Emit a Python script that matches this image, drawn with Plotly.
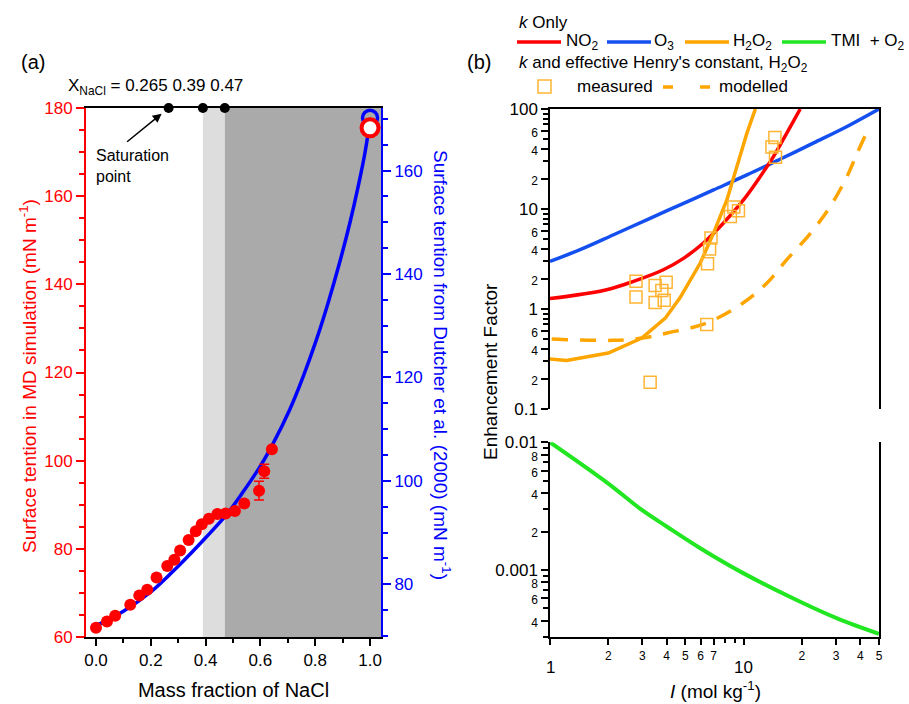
import math
import plotly.graph_objects as go

# ---------------- Panel (a) data ----------------
md_x = [0.0, 0.04, 0.07, 0.125, 0.158, 0.187, 0.221, 0.26, 0.286, 0.307, 0.338, 0.364,
        0.386, 0.412, 0.443, 0.473, 0.507, 0.541, 0.595, 0.614, 0.642]
md_y = [62.1, 63.5, 64.8, 67.3, 69.4, 70.7, 73.5, 76.1, 77.5, 79.6, 82.0, 84.0,
        85.6, 86.8, 87.9, 88.0, 88.6, 90.3, 93.2, 97.6, 102.6]
md_err = [0, 0, 0, 0, 0, 0, 0, 0, 0, 0, 0, 0,
          0, 0, 0, 0, 0, 0, 2.15, 1.6, 0]
md_pure_x = [1.0]
md_pure_y = [175.5]

dutcher_x = [0.0, 0.1, 0.2, 0.3, 0.4, 0.477, 0.532, 0.599, 0.647, 0.708, 0.757, 0.805,
             0.848, 0.891, 0.927, 0.957, 0.982, 0.994, 1.0]
dutcher_y = [72.0, 74.8, 78.5, 83.5, 89.0, 93.5, 97.5, 102.8, 107.3, 113.9, 120.3, 127.4,
             134.6, 142.6, 150.0, 157.0, 163.6, 167.6, 170.2]
dutcher_pure_x = [1.0]
dutcher_pure_y = [170.2]

sat_x = [0.265, 0.39, 0.47]
sat_y = [180, 180, 180]
region_light = [0.39, 0.47]
region_dark = [0.47, 1.04]

xa_range = [-0.0365, 1.04]
md_range = [60, 180]
dutcher_range = [69.8, 172.1]

# ---------------- Panel (b) data ----------------
no2_x = [1.0, 1.96, 2.70, 3.85, 4.89, 6.2, 7.87, 10.0, 12.2, 14.3, 16.7, 19.6]
no2_y = [1.27, 1.56, 1.89, 2.47, 3.21, 4.57, 7.24, 12.4, 21.2, 33.8, 57.5, 100]

o3_x = [1.0, 1.43, 2.13, 3.16, 4.70, 6.99, 10.4, 15.5, 23.0, 34.2, 50.0]
o3_y = [2.99, 3.92, 5.53, 7.8, 11.0, 15.5, 21.9, 31.6, 45.8, 66.9, 100]

h2o2_x = [1.0, 1.22, 2.0, 2.98, 3.94, 4.7, 5.97, 6.99, 8.2, 9.2, 10.4, 11.5]
h2o2_y = [0.316, 0.306, 0.363, 0.512, 0.81, 1.3, 2.88, 5.75, 12.4, 26.7, 57.5, 100]

mod_x = [1.02, 2.13, 2.98, 4.02, 6.45, 9.8, 13.2, 16.7, 22.2, 28.0, 34.2, 38.6, 43.4]
mod_y = [0.501, 0.486, 0.512, 0.575, 0.725, 1.13, 1.82, 3.11, 5.75, 10.6, 21.2, 36.3, 59.7]

meas_x = [2.78, 2.78, 3.49, 3.78, 3.98, 3.49, 3.89, 6.67, 6.78, 6.51, 8.9, 9.4, 8.54,
          14.0, 14.5, 14.6, 6.45, 3.29]
meas_y = [1.89, 1.32, 1.72, 1.53, 1.85, 1.16, 1.22, 3.98, 5.13, 2.84, 10.5, 9.6, 8.4,
          41.7, 52.0, 33.0, 0.70, 0.185]

tmi_x = [1.0, 2.0, 2.98, 4.02, 5.97, 10.0, 19.6, 30.4, 50.0]
tmi_y = [0.01, 0.00475, 0.00295, 0.00218, 0.00148, 0.00094, 0.000564, 0.000418, 0.000316]

# tick definitions
xb_major = [1, 10]
xb_tickvals = [1, 2, 3, 4, 5, 6, 7, 10, 20, 30, 40, 50]
xb_ticktext = ["", "2", "3", "4", "5", "6", "7", "", "2", "3", "4", "5"]
xb_minor = [8, 9]

yt_tickvals = [0.1, 0.2, 0.4, 0.6, 1, 2, 4, 6, 10, 20, 40, 60, 100]
yt_labels = ["0.1", "2", "4", "6", "1", "2", "4", "6", "10", "2", "4", "6", "100"]
yt_minor = [0.3, 0.5, 0.7, 0.8, 0.9, 3, 5, 7, 8, 9, 30, 50, 70, 80, 90]

yb_tickvals = [0.0004, 0.0006, 0.0008, 0.001, 0.002, 0.004, 0.006, 0.008, 0.01]
yb_labels = ["4", "6", "8", "0.001", "2", "4", "6", "8", "0.01"]
yb_minor = [0.0003, 0.0005, 0.0007, 0.0009, 0.003, 0.005, 0.007, 0.009]

W, H = 909, 704
FONT = "Arial, Liberation Sans, sans-serif"
RED = "#ff0000"
BLUE = "#0000ff"
C_NO2 = "#ff0000"
C_O3 = "#1450f0"
C_H2O2 = "#ffa500"
C_TMI = "#22e622"
C_SQ = "#ffb533"


def px(x):
    return x / W


def py(y):
    return 1 - y / H


def small(t):
    if t in ("0.1", "1", "10", "100", "0.001", "0.01"):
        return t
    return "<span style='font-size:12px'>" + t + "</span>"


fig = go.Figure()

# ---- panel (a) traces ----  (Dutcher on base axis 'y' (right side), MD on overlaying 'y2' (left side))
fig.add_trace(go.Scatter(x=dutcher_x, y=dutcher_y, mode="lines", line=dict(color=BLUE, width=3.5, shape="spline"),
                         xaxis="x", yaxis="y", showlegend=False))
fig.add_trace(go.Scatter(x=dutcher_pure_x, y=dutcher_pure_y, mode="markers",
                         marker=dict(symbol="circle-open", size=15, color=BLUE, line=dict(width=3.5, color=BLUE)),
                         xaxis="x", yaxis="y", showlegend=False, cliponaxis=False))
fig.add_trace(go.Scatter(x=md_x, y=md_y, mode="markers",
                         marker=dict(size=12, color=RED),
                         error_y=dict(type="data", array=md_err, color=RED, thickness=1.5, width=5),
                         xaxis="x", yaxis="y2", showlegend=False))
fig.add_trace(go.Scatter(x=md_pure_x, y=md_pure_y, mode="markers",
                         marker=dict(symbol="circle", size=17, color="white", line=dict(width=4, color=RED)),
                         xaxis="x", yaxis="y2", showlegend=False, cliponaxis=False))
fig.add_trace(go.Scatter(x=sat_x, y=sat_y, mode="markers", marker=dict(size=10, color="black"),
                         xaxis="x", yaxis="y2", showlegend=False, cliponaxis=False))

# ---- panel (b) traces ----
fig.add_trace(go.Scatter(x=o3_x, y=o3_y, mode="lines", line=dict(color=C_O3, width=3.5, shape="spline"),
                         xaxis="x3", yaxis="y3", showlegend=False))
fig.add_trace(go.Scatter(x=no2_x, y=no2_y, mode="lines", line=dict(color=C_NO2, width=3.5, shape="spline"),
                         xaxis="x3", yaxis="y3", showlegend=False))
fig.add_trace(go.Scatter(x=h2o2_x, y=h2o2_y, mode="lines", line=dict(color=C_H2O2, width=3.5),
                         xaxis="x3", yaxis="y3", showlegend=False))
fig.add_trace(go.Scatter(x=mod_x, y=mod_y, mode="lines", line=dict(color=C_H2O2, width=3.5, dash="16px,12px", shape="spline"),
                         xaxis="x3", yaxis="y3", showlegend=False))
fig.add_trace(go.Scatter(x=meas_x, y=meas_y, mode="markers",
                         marker=dict(symbol="square-open", size=12, color=C_SQ, line=dict(width=1.5, color=C_SQ)),
                         xaxis="x3", yaxis="y3", showlegend=False))
fig.add_trace(go.Scatter(x=tmi_x, y=tmi_y, mode="lines", line=dict(color=C_TMI, width=4, shape="spline"),
                         xaxis="x4", yaxis="y4", showlegend=False))

tick_font = dict(family=FONT, size=17, color="black")

fig.update_layout(
    width=W, height=H, margin=dict(l=0, r=0, t=0, b=0, autoexpand=False),
    paper_bgcolor="white", plot_bgcolor="rgba(0,0,0,0)",
    font=dict(family=FONT, size=17, color="black"),
    showlegend=False,
    xaxis=dict(domain=[px(86), px(381)], anchor="y", range=xa_range,
               tickvals=[0, 0.2, 0.4, 0.6, 0.8, 1.0], ticktext=["0.0", "0.2", "0.4", "0.6", "0.8", "1.0"],
               ticks="outside", ticklen=7, tickwidth=1.5, tickcolor="black",
               minor=dict(tickvals=[0.1, 0.3, 0.5, 0.7, 0.9], ticks="outside", ticklen=4, tickcolor="black", showgrid=False),
               showline=True, linecolor="black", linewidth=1.5, mirror=True,
               showgrid=False, zeroline=False, tickfont=tick_font, automargin=False,
               title=dict(text="Mass fraction of NaCl", font=dict(size=20), standoff=14)),
    yaxis=dict(domain=[py(637), py(108)], anchor="x", side="right", range=dutcher_range,
               tickvals=[80, 100, 120, 140, 160],
               ticks="outside", ticklen=8, tickwidth=1.5, tickcolor=BLUE,
               minor=dict(tickvals=list(range(70, 175, 5)), ticks="outside", ticklen=5, tickcolor=BLUE, showgrid=False),
               showline=True, linecolor=BLUE, linewidth=2, automargin=False,
               showgrid=False, zeroline=False, tickfont=dict(family=FONT, size=17, color=BLUE)),
    yaxis2=dict(overlaying="y", side="left", anchor="x", range=md_range,
                tickvals=[60, 80, 100, 120, 140, 160, 180],
                ticks="outside", ticklen=8, tickwidth=1.5, tickcolor=RED,
                minor=dict(tickvals=list(range(65, 180, 5)), ticks="outside", ticklen=5, tickcolor=RED, showgrid=False),
                showline=True, linecolor=RED, linewidth=2, automargin=False,
                showgrid=False, zeroline=False, tickfont=dict(family=FONT, size=17, color=RED)),
    xaxis3=dict(domain=[px(550), px(879)], anchor="y3", type="log", range=[0, math.log10(50)],
                side="top", showline=True, linecolor="black", linewidth=1.5, automargin=False,
                ticks="", showticklabels=False, showgrid=False, zeroline=False),
    yaxis3=dict(domain=[py(409), py(109)], anchor="x3", type="log", range=[-1, 2],
                tickvals=yt_tickvals, ticktext=[small(t) for t in yt_labels],
                ticks="outside", ticklen=7, tickwidth=1.5, tickcolor="black",
                minor=dict(tickvals=yt_minor, ticks="outside", ticklen=5, tickcolor="black", showgrid=False),
                showline=True, linecolor="black", linewidth=1.5, mirror=True, automargin=False,
                showgrid=False, zeroline=False, tickfont=tick_font),
    xaxis4=dict(domain=[px(550), px(879)], anchor="y4", type="log", range=[0, math.log10(50)],
                tickvals=xb_tickvals, ticktext=xb_ticktext,
                ticks="outside", ticklen=7, tickwidth=1.5, tickcolor="black",
                minor=dict(tickvals=xb_minor, ticks="outside", ticklen=5, tickcolor="black", showgrid=False),
                showline=True, linecolor="black", linewidth=1.5, automargin=False,
                showgrid=False, zeroline=False, tickfont=dict(family=FONT, size=12, color="black")),
    yaxis4=dict(domain=[py(636.7), py(442.3)], anchor="x4", type="log", range=[math.log10(0.0003), -2],
                tickvals=yb_tickvals, ticktext=[small(t) for t in yb_labels],
                ticks="outside", ticklen=7, tickwidth=1.5, tickcolor="black",
                minor=dict(tickvals=yb_minor, ticks="outside", ticklen=5, tickcolor="black", showgrid=False),
                showline=True, linecolor="black", linewidth=1.5, mirror=True, automargin=False,
                showgrid=False, zeroline=False, tickfont=tick_font),
)

shapes = [
    dict(type="rect", xref="x", yref="y domain", x0=region_light[0], x1=region_light[1], y0=0, y1=1,
         fillcolor="#dddddd", line=dict(width=0), layer="below"),
    dict(type="rect", xref="x", yref="y domain", x0=region_dark[0], x1=region_dark[1], y0=0, y1=1,
         fillcolor="#aaaaaa", line=dict(width=0), layer="below"),
]


def leg_line(x0, x1, y, color, dash="solid"):
    return dict(type="line", xref="paper", yref="paper", x0=px(x0), x1=px(x1), y0=py(y), y1=py(y),
                line=dict(color=color, width=3.5, dash=dash))


shapes += [
    leg_line(517, 561, 42, C_NO2),
    leg_line(607, 651, 42, C_O3),
    leg_line(685, 729, 42, C_H2O2),
    leg_line(782, 826, 42, C_TMI),
    leg_line(663, 710, 87, C_H2O2, dash="10px,27px"),
    dict(type="rect", xref="paper", yref="paper", x0=px(538), x1=px(551), y0=py(93), y1=py(80),
         line=dict(color=C_SQ, width=1.5), fillcolor="rgba(0,0,0,0)"),
]
fig.update_layout(shapes=shapes)


def ann(x, y, text, size=17, color="black", xanchor="left", angle=0, align="left"):
    return dict(x=px(x), y=py(y), xref="paper", yref="paper", text=text, showarrow=False,
                xanchor=xanchor, yanchor="middle", textangle=angle, align=align,
                font=dict(family=FONT, size=size, color=color))


annotations = [
    ann(33, 62, "(a)", size=20, xanchor="center"),
    ann(479, 62, "(b)", size=20, xanchor="center"),
    ann(66, 87, "X<sub>NaCl</sub> = 0.265 0.39 0.47", size=17),
    ann(94, 166, "Saturation<br>point", size=16),
    ann(28, 376, "Surface tention in MD simulation (mN m<sup>-1</sup>)", size=19, color=RED,
        xanchor="center", angle=-90, align="center"),
    ann(442, 365, "Surface tention from Dutcher et al. (2000) (mN m<sup>-1</sup>)", size=19, color=BLUE,
        xanchor="center", angle=90, align="center"),
    ann(490, 372, "Enhancement Factor", size=19, xanchor="center", angle=-90, align="center"),
    ann(715, 690, "<i>I</i> (mol kg<sup>-1</sup>)", size=19, xanchor="center"),
    ann(517, 22, "<i>k</i> Only", size=17),
    ann(564, 42, "NO<sub>2</sub>", size=17),
    ann(652, 42, "O<sub>3</sub>", size=17),
    ann(731, 42, "H<sub>2</sub>O<sub>2</sub>", size=17),
    ann(829, 42, "TMI  + O<sub>2</sub>", size=17),
    ann(517, 64, "<i>k</i> and effective Henry's constant, H<sub>2</sub>O<sub>2</sub>", size=17),
    ann(575, 87, "measured", size=17),
    ann(717, 87, "modelled", size=17),
    dict(x=sat_x[0], y=sat_y[0], xref="x", yref="y2", text="", showarrow=True,
         ax=-43, ay=35, arrowhead=2, arrowsize=1.2, arrowwidth=1.5, arrowcolor="black", standoff=9),
]
for v in xb_major:
    annotations.append(dict(x=math.log10(v), y=py(667), xref="x4", yref="paper", text=str(v),
                            showarrow=False, xanchor="center", yanchor="middle",
                            font=dict(family=FONT, size=17, color="black")))
fig.update_layout(annotations=annotations)

fig.write_html("out.html",
               config={"displayModeBar": False},
               post_script="document.body.style.margin='0';document.body.style.padding='0';"
                           "document.body.style.overflow='hidden';")
